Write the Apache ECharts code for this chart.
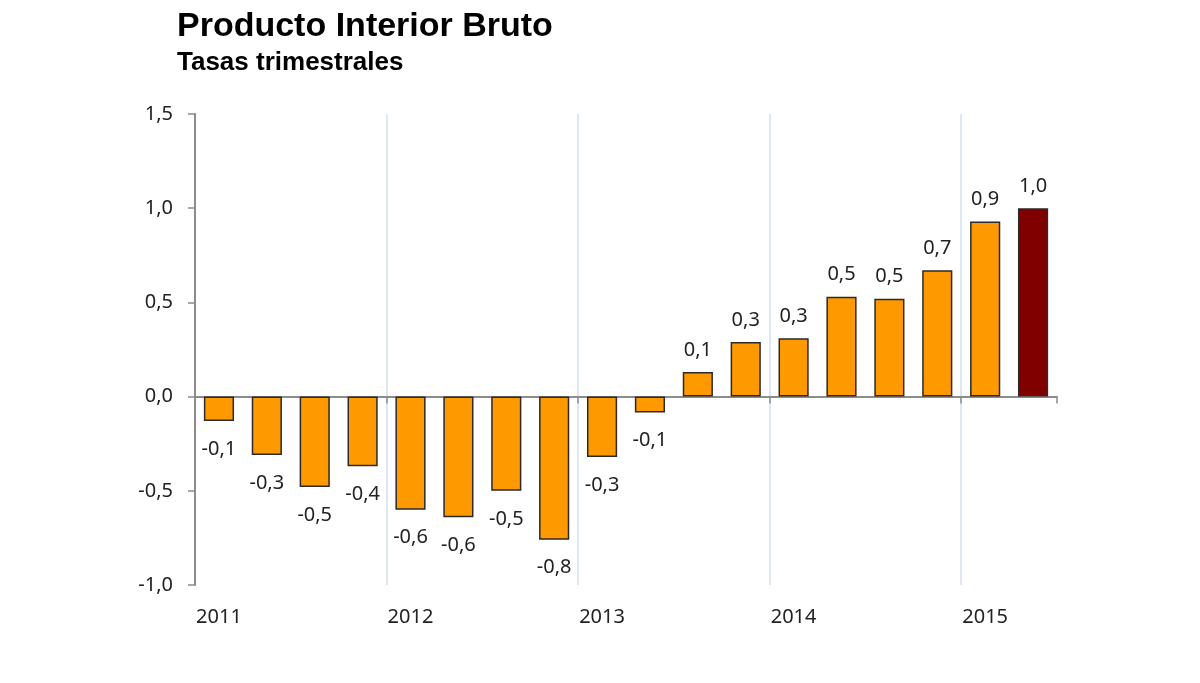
<!DOCTYPE html>
<html>
<head>
<meta charset="utf-8">
<script src="https://cdn.jsdelivr.net/npm/echarts@6/dist/echarts.min.js"></script>
<style>html,body{margin:0;padding:0;background:#fff}#c{width:1200px;height:683px}</style>
</head>
<body>
<div id="c"></div>
<script>
var categories = ["2011T1","2011T2","2011T3","2011T4","2012T1","2012T2","2012T3","2012T4","2013T1","2013T2","2013T3","2013T4","2014T1","2014T2","2014T3","2014T4","2015T1","2015T2"];
var values = [-0.13,-0.31,-0.48,-0.37,-0.60,-0.64,-0.50,-0.76,-0.32,-0.085,0.13,0.29,0.31,0.53,0.52,0.67,0.93,1.0];
var valueLabels = ["-0,1","-0,3","-0,5","-0,4","-0,6","-0,6","-0,5","-0,8","-0,3","-0,1","0,1","0,3","0,3","0,5","0,5","0,7","0,9","1,0"];
var yMin = -1.0, yMax = 1.5, yStep = 0.5;

var font = "'Noto Sans', 'Open Sans', sans-serif";
var chart = echarts.init(document.getElementById('c'));
var data = values.map(function (v, i) {
  var d = {value: v, label: {position: v >= 0 ? 'top' : 'bottom', distance: v >= 0 ? 12 : 18}};
  if (i === values.length - 1) d.itemStyle = {color: '#800000'};
  return d;
});
var grid = '#d3dcf0';
chart.setOption({
  animation: false,
  title: [
    {text: 'Producto Interior Bruto', left: 172, top: 5,
     textStyle: {fontFamily: "'Liberation Sans', Arial, sans-serif", fontWeight: 'bold', fontSize: 34, color: '#000'}},
    {text: 'Tasas trimestrales', left: 172, top: 45,
     textStyle: {fontFamily: "'Liberation Sans', Arial, sans-serif", fontWeight: 'bold', fontSize: 26, color: '#000'}}
  ],
  grid: {left: 195, right: 143, top: 114, bottom: 98},
  xAxis: [
    {type: 'category', data: categories, boundaryGap: true,
     axisLine: {onZero: true, lineStyle: {color: '#8c8c8c', width: 2}},
     axisTick: {show: true, length: 7, interval: function (i) { return i % 4 === 0 && i > 0; }, lineStyle: {color: '#8c8c8c', width: 1.5}},
     axisLabel: {show: false},
     splitLine: {show: true, interval: function (i) { return i % 4 === 0 && i > 0; },
       lineStyle: {color: [grid, grid, grid, grid, 'rgba(0,0,0,0)'], width: 1.5}}},
    {type: 'category', data: categories, position: 'bottom', boundaryGap: true,
     axisLine: {show: false, onZero: false}, axisTick: {show: false},
     axisLabel: {interval: 0, margin: 22, fontFamily: font, fontSize: 20, color: '#222',
       formatter: function (v, i) { return i % 4 === 0 ? v.slice(0, 4) : ''; }},
     splitLine: {show: false}}
  ],
  yAxis: {type: 'value', min: yMin, max: yMax, interval: yStep,
    axisLine: {show: true, lineStyle: {color: '#8c8c8c', width: 2}},
    axisTick: {show: true, length: 7, lineStyle: {color: '#8c8c8c', width: 1.5}},
    splitLine: {show: false},
    axisLabel: {margin: 22, fontFamily: font, fontSize: 20, color: '#222',
      formatter: function (v) { return v.toFixed(1).replace('.', ','); }}},
  series: [{
    type: 'bar', xAxisIndex: 0, data: data, barCategoryGap: '37%',
    itemStyle: {color: '#ff9900', borderColor: '#2a2a2a', borderWidth: 1.5},
    label: {show: true, fontFamily: font, fontSize: 20, color: '#222',
      formatter: function (p) { return valueLabels[p.dataIndex]; }}
  }]
});
</script>
</body>
</html>
